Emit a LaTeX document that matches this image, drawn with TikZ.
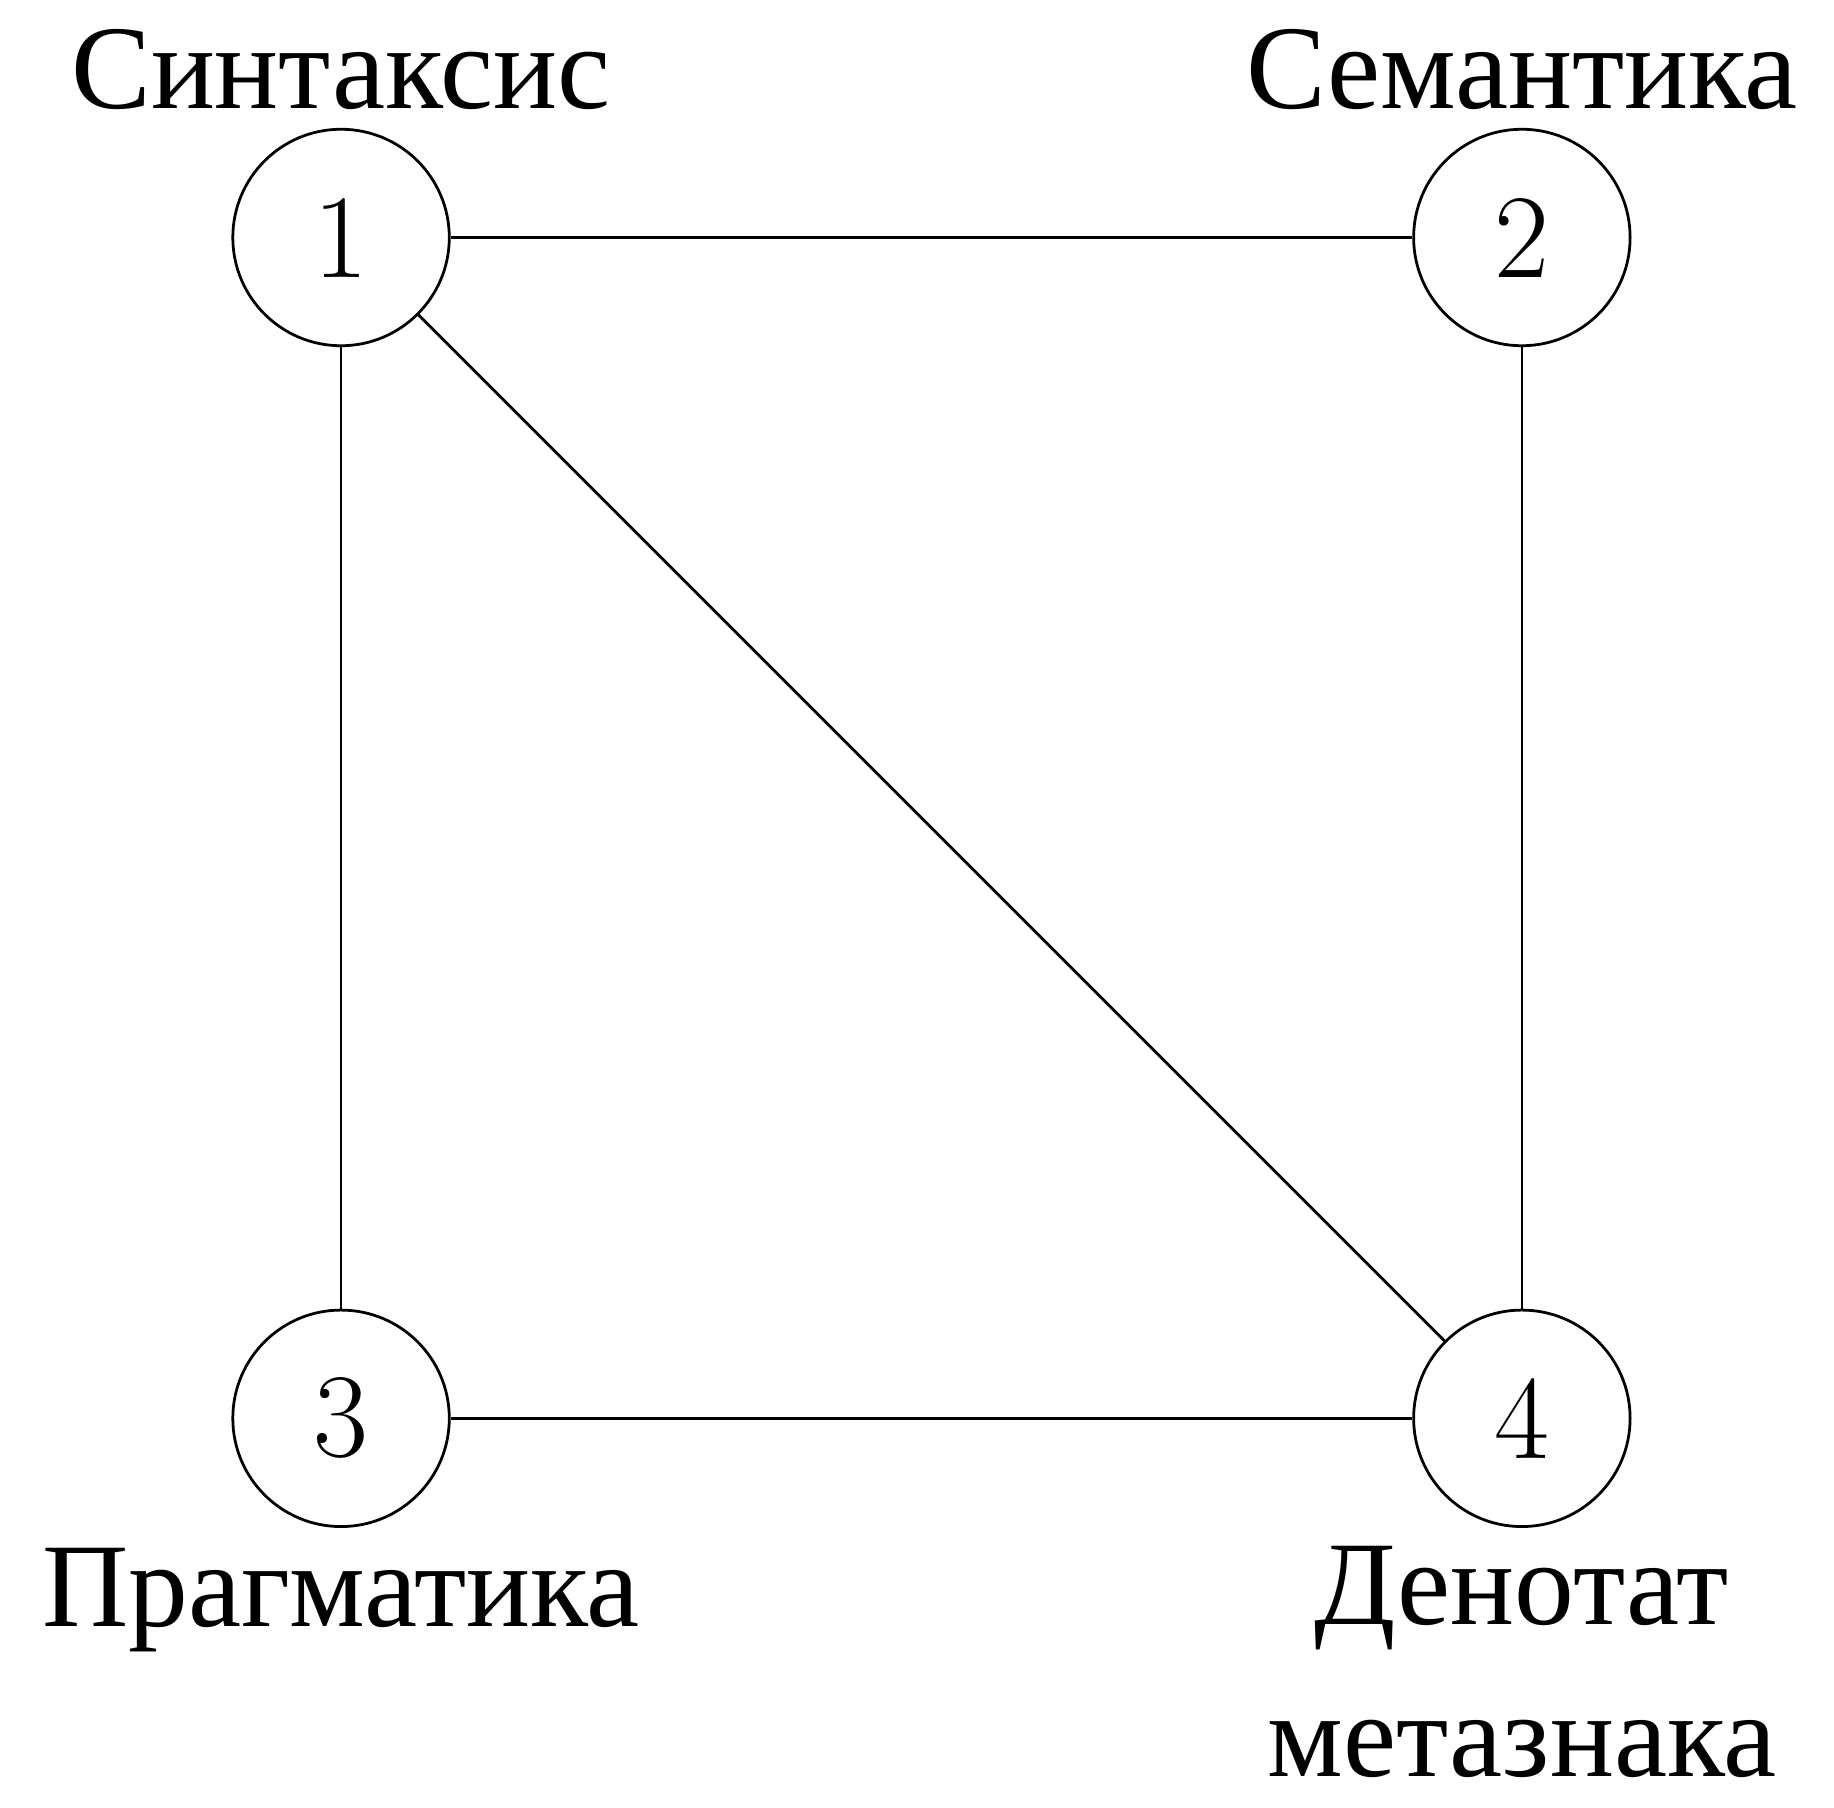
\documentclass[tikz,border=0pt]{standalone}
\usepackage{fontspec}
\newfontfamily\cyrfont{Liberation Serif}
\usetikzlibrary{positioning}

\begin{document}
\begin{tikzpicture}[
    every node/.style={font=\LARGE},
    vertex/.style={
        draw, circle, minimum size=1.1cm,
        inner sep=0pt
    },
    lbl/.style={font=\LARGE\cyrfont, anchor=base, align=center},
    edge/.style={draw=black}
]

% ── BOUNDING BOX ───────────────────────────────────────────────
\useasboundingbox (-1.733, -1.977) rectangle (7.586, 7.207);

% === VERTICES ===
\node[vertex] (n1) at (0, 6) {1};
\node[vertex] (n2) at (6, 6) {2};
\node[vertex] (n3) at (0, 0) {3};
\node[vertex] (n4) at (6, 0) {4};

% === LABELS ===
\node[lbl] (syntax)    at (0, 6.653)  {Синтаксис};
\node[lbl] (semantics) at (6, 6.653)  {Семантика};
\node[lbl] (pragmatics) at (0, -1.06) {Прагматика};
% base of a two-line node is its last line
\node[lbl] (denotat)   at (6, -1.822) {Денотат\\метазнака};

% ── EDGES ──────────────────────────────────────────────────────
\draw[edge] (n1) -- (n2);
\draw[edge] (n1) -- (n3);
\draw[edge] (n1) -- (n4);
\draw[edge] (n2) -- (n4);
\draw[edge] (n3) -- (n4);

\end{tikzpicture}
\end{document}
